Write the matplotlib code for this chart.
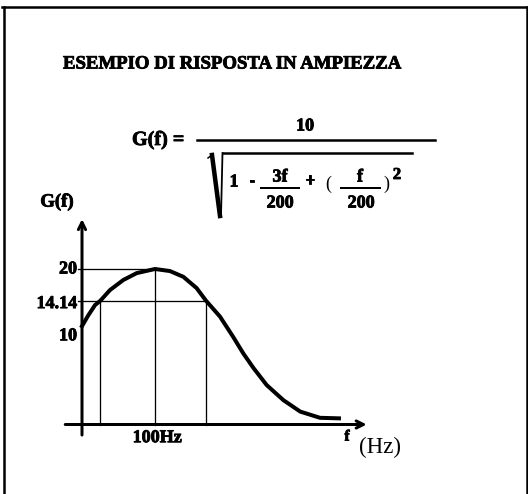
import numpy as np
import matplotlib
matplotlib.use("Agg")
import matplotlib.pyplot as plt
import matplotlib.patheffects as pe
from matplotlib.lines import Line2D

W, H = 528, 494

# amplitude response as sketched: frequency (Hz) -> gain
freq = [0, 8.6, 17.8, 25, 38.4, 56.6, 74.9, 100, 120.5, 138.8, 157, 170,
        189, 207, 221, 235, 253, 276, 299, 326, 352]
gain = [10, 11.7, 13.4, 14.14, 16.05, 17.9, 19.2, 20, 19.6, 18.5, 16.4, 14.14,
        11.5, 8.4, 6.1, 4.3, 2.5, 1.2, 0.46, 0.17, 0.15]

peak_f, peak_g = 100, 20
cut_f = [25, 170]
cut_g = 14.14
y_ticks = [20, 14.14, 10]
y_labels = ["20", "14.14", "10"]
x_label = "100Hz"

title = "ESEMPIO DI RISPOSTA IN AMPIEZZA"

plt.rcParams['font.family'] = ['Liberation Serif', 'DejaVu Serif']
plt.rcParams['font.weight'] = 'bold'

# the gain axis of the sketch is compressed toward the top
PW = 0.66


def fwd(v):
    v = np.asarray(v, dtype=float)
    return np.sign(v) * np.abs(v) ** PW


def inv(g):
    g = np.asarray(g, dtype=float)
    return np.sign(g) * np.abs(g) ** (1 / PW)


def fx(x):
    return x / W


def fy(y):
    return 1 - y / H


def pxlw(p):
    # line width in pixels -> points
    return p * 72 / 100


fig = plt.figure(figsize=(W / 100, H / 100), dpi=100)
fig.patch.set_facecolor('white')

ax = fig.add_axes([0, 0, 1, 1])
ax.axis('off')

# frequency: 0 Hz at x=82 px, 0.73 px per Hz
x0, kx = 82, 0.73
ax.set_xlim(-x0 / kx, (W - x0) / kx)

# gain: 0 at y=424.5 px, 20 at y=269 px
ax.set_yscale('function', functions=(fwd, inv))
y0 = 424.5
ky = (y0 - 269) / float(fwd(20))
ax.set_ylim(float(inv(-(H - y0) / ky)), float(inv(y0 / ky)))

# axes with arrows
arrow = dict(arrowstyle='->', lw=pxlw(3), color='black', shrinkA=0, shrinkB=0,
             mutation_scale=13)
ax.annotate('', xy=(390, 0), xytext=(-23, 0), arrowprops=arrow)
ax.annotate('', xy=(0, 30.5), xytext=(0, -0.34), arrowprops=arrow)

# guide lines to the peak and the -3 dB points
thin = dict(color='black', lw=pxlw(1.3))
ax.plot([-5.5, peak_f], [peak_g, peak_g], **thin)
ax.plot([-5.5, cut_f[1]], [cut_g, cut_g], **thin)
ax.plot([peak_f, peak_f], [0, peak_g], **thin)
for f in cut_f:
    ax.plot([f, f], [0, cut_g], **thin)

ax.plot(freq, gain, color='black', lw=pxlw(4), solid_joinstyle='round')

# tick labels
tick_off = [0, -2, -7]
for v, lab, off in zip(y_ticks, y_labels, tick_off):
    ax.annotate(lab, xy=(-7, v), xytext=(0, off), textcoords='offset points',
                ha='right', va='center', fontsize=13)
ax.annotate(x_label, xy=(peak_f, 0), xytext=(1.5, -9.5), textcoords='offset points',
            ha='center', va='center', fontsize=13)

fig.text(fx(57), fy(202), "G(f)", ha='center', va='center', fontsize=13.5)
fig.text(fx(347), fy(437), "f", ha='center', va='center', fontsize=11)
fig.text(fx(380), fy(447), "(Hz)", ha='center', va='center', fontsize=16.5,
         fontweight='normal')

# title
fig.text(fx(63), fy(64), title, ha='left', va='center', fontsize=13.5)

# formula G(f) = 10 / sqrt(1 - 3f/200 + (f/200)^2)
fig.text(fx(132), fy(140), "G(f) =", ha='left', va='center', fontsize=14.5)
fig.add_artist(Line2D([fx(197), fx(435)], [fy(140), fy(140)], color='black', lw=pxlw(2.5)))
fig.text(fx(305), fy(126), "10", ha='center', va='center', fontsize=13)

# root sign
fig.add_artist(Line2D([fx(208), fx(212)], [fy(158), fy(155)], color='black', lw=pxlw(1.5)))
fig.add_artist(Line2D([fx(212), fx(220)], [fy(155), fy(216)], color='black', lw=pxlw(4.5)))
fig.add_artist(Line2D([fx(221), fx(222.5)], [fy(216), fy(153)], color='black', lw=pxlw(1.8)))
fig.add_artist(Line2D([fx(222.5), fx(412)], [fy(153), fy(153)], color='black', lw=pxlw(2.5)))

fs = 13
fig.text(fx(234), fy(182), "1", ha='center', va='center', fontsize=fs)
fig.text(fx(252), fy(181), "-", ha='center', va='center', fontsize=fs)
fig.text(fx(280), fy(177), "3f", ha='center', va='center', fontsize=fs)
fig.add_artist(Line2D([fx(261), fx(299)], [fy(188.5), fy(188.5)], color='black', lw=pxlw(2)))
fig.text(fx(280), fy(203), "200", ha='center', va='center', fontsize=fs)
fig.text(fx(310), fy(181), "+", ha='center', va='center', fontsize=fs)
fig.text(fx(328), fy(184), "(", ha='center', va='center', fontsize=fs, fontweight='normal')
fig.text(fx(360), fy(177), "f", ha='center', va='center', fontsize=fs)
fig.add_artist(Line2D([fx(341), fx(380)], [fy(188.5), fy(188.5)], color='black', lw=pxlw(2)))
fig.text(fx(361), fy(203), "200", ha='center', va='center', fontsize=fs)
fig.text(fx(386), fy(184), ")", ha='center', va='center', fontsize=fs, fontweight='normal')
fig.text(fx(397), fy(175), "2", ha='center', va='center', fontsize=12)

# heavier strokes on the lettering
for t in fig.texts + ax.texts:
    if t.get_fontweight() == 'bold':
        t.set_path_effects([pe.withStroke(linewidth=0.6, foreground='black')])

# frame
fig.add_artist(Line2D([fx(3.5), fx(3.5)], [fy(7), fy(H)], color='black', lw=pxlw(2.5)))
fig.add_artist(Line2D([fx(2), fx(W)], [fy(7.5), fy(7.5)], color='black', lw=pxlw(2.5)))
fig.add_artist(Line2D([fx(526.5), fx(526.5)], [fy(7), fy(H)], color='black', lw=pxlw(2.5)))

fig.savefig("out.png", dpi=100, facecolor='white')
